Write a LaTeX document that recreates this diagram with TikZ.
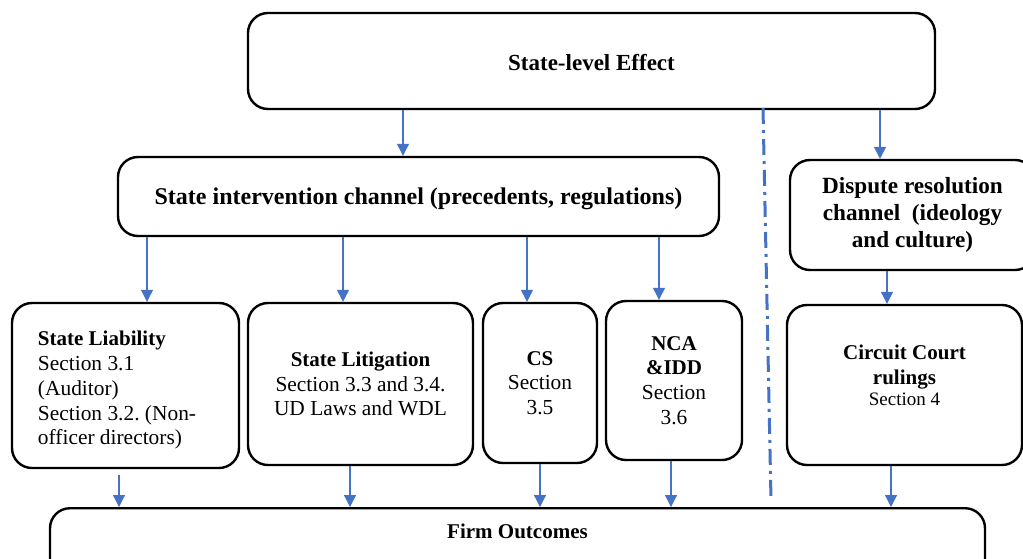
\documentclass[tikz,border=0pt]{standalone}
\usepackage{fontspec}
\setmainfont{Liberation Serif}
\usetikzlibrary{arrows.meta}
\definecolor{arrblue}{HTML}{4472C4}
\newcommand{\blkbox}[7][]{\node[blk,#1,minimum width={(#4-#2)*0.5pt},minimum height={(#5-#3)*0.5pt}] (#6) at ({(#2+#4)/2},{(#3+#5)/2}) {#7};}
\newcommand{\flow}[4][]{\draw[flowarr,#1] (#2.south -| #4,0) -- (#3.north -| #4,0);}
\newcommand{\ttl}[1]{\textbf{\fontsize{10.5}{12.4}\selectfont #1}}
\tikzset{
  blk/.style={draw, line width=1.2pt, rounded corners=10pt, inner sep=0pt, align=center,
    font=\frenchspacing\fontsize{10.7}{12.4}\selectfont},
  headtxt/.style={font=\fontsize{11.5}{14}\selectfont\bfseries, text height=10pt},
  chantxt/.style={font=\fontsize{12}{13.5}\selectfont\bfseries},
  flowarr/.style={draw=arrblue, line width=0.6pt, -{Triangle[width=6pt,length=6pt]}},
  divider/.style={draw=arrblue, line width=1.5pt, dash pattern=on 8pt off 3pt on 1.5pt off 3pt}
}
\begin{document}
\begin{tikzpicture}[x=0.5pt,y=-0.5pt]
  \useasboundingbox (0,0) rectangle (1023,558);
  \clip (0,0) rectangle (1023,558);

  % top level
  \blkbox[headtxt]{248}{13}{935}{109}{effect}{State-level Effect}

  % channels
  \blkbox[chantxt, text height=11pt]{118}{157}{719}{236}{chan}{State intervention channel (precedents, regulations)}
  \blkbox[font=\fontsize{11.6}{13.5}\selectfont\bfseries]{790}{160}{1035}{270}{disp}{Dispute resolution\\ channel\ \ (ideology\\ and culture)}

  % sections
  \blkbox[align=flush left,text width=87.5pt,text depth=47pt]{12}{303}{239}{468}{liab}{\ttl{State Liability}\\ Section 3.1\\ (Auditor)\\ Section 3.2. (Non-\\ officer directors)}
  \blkbox{248}{303}{473}{465}{lit}{\ttl{State Litigation}\\ Section 3.3 and 3.4.\\ UD Laws and WDL}
  \blkbox{483}{303}{597}{463}{cs}{\ttl{CS}\\ Section\\ 3.5}
  \blkbox{606}{301}{742}{460}{nca}{\ttl{NCA}\\ \ttl{\&IDD}\\ Section\\ 3.6}
  \blkbox[text depth=10pt]{787}{305}{1022}{465}{circ}{\ttl{Circuit Court}\\ \ttl{rulings}\\[-2pt] {\fontsize{9.5}{10.5}\selectfont Section 4}}

  % outcome
  \node[blk, font=\fontsize{10.5}{12}\selectfont\bfseries, anchor=north, minimum width={935*0.5pt},
    inner ysep=7pt, text height=8pt, text depth=30pt] (firm) at (517.5,507) {Firm Outcomes};

  % arrows
  \flow{effect}{chan}{403}
  \flow{effect}{disp}{880}
  \flow{chan}{liab}{147}
  \flow{chan}{lit}{343}
  \flow{chan}{cs}{527}
  \flow{chan}{nca}{659}
  \flow{disp}{circ}{887}
  \flow[shorten <=3pt]{liab}{firm}{119}
  \flow{lit}{firm}{350}
  \flow{cs}{firm}{540}
  \flow{nca}{firm}{671}
  \flow{circ}{firm}{891}

  % divider
  \coordinate (divtop) at (763,108);
  \coordinate (divbot) at (771,500);
  \draw[divider] (divtop) -- (divbot);
\end{tikzpicture}
\end{document}
